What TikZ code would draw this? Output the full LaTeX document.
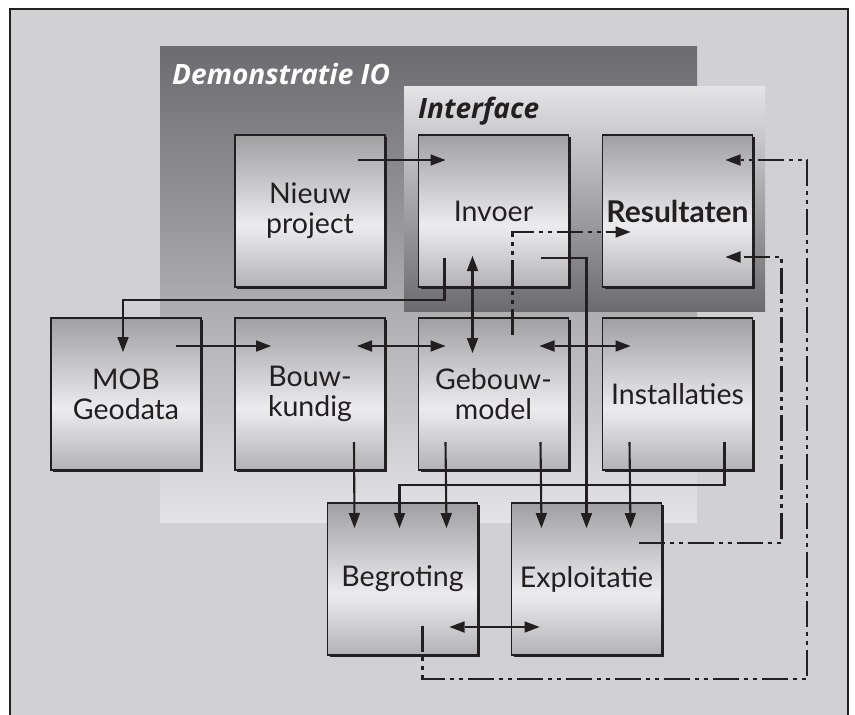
\documentclass[tikz,border=0pt]{standalone}
\usepackage{fontspec}
\setmainfont{Lato}
\newfontfamily\titlefont{Open Sans}
\usepackage{tikz}
\usetikzlibrary{arrows.meta,calc,shadows}

\definecolor{framebg}{HTML}{D1D1D3}
\definecolor{darkband}{HTML}{6B6B70}
\definecolor{lightband}{HTML}{E4E4E6}
\definecolor{boxedge}{HTML}{B2B2B5}
\definecolor{boxmid}{HTML}{ECECEE}
\definecolor{ink}{HTML}{231F20}

\pgfdeclareverticalshading{boxshade}{100bp}{color(0bp)=(boxedge); color(25bp)=(boxedge); color(45bp)=(boxmid); color(75bp)=(boxedge!90!black); color(100bp)=(boxedge!90!black)}

\begin{document}
\begin{tikzpicture}[
  x=1pt, y=-1pt,
  >={Triangle[length=15pt,width=11.5pt,line width=0pt]},
  arr/.style={->, line width=2.1pt, draw=ink},
  both/.style={<->, line width=2.1pt, draw=ink},
  dashdot/.style={line width=2.1pt, draw=ink, dash pattern=on 26pt off 5pt on 4pt off 5pt on 4pt off 5pt},
  module/.style={draw=ink, line width=1.4pt, shading=boxshade, text=ink,
    minimum width=150pt, minimum height=152pt, inner sep=2pt, outer sep=0pt,
    align=center, font=\fontsize{28.5}{30}\selectfont,
    drop shadow={shadow xshift=2.2pt, shadow yshift=-2.2pt, opacity=1, fill=ink}},
  title/.style={anchor=base west, inner sep=0pt, font=\titlefont\fontsize{28}{30}\selectfont\bfseries\itshape},
]

\useasboundingbox (0,0) rectangle (855,715);
\fill[white] (0,0) rectangle (855,715);
\fill[framebg] (10,9) rectangle (848,715);
\draw[line width=1.5pt, ink] (10,715) -- (10,9) -- (848,9) -- (848,715);

% grouping panels
\shade[top color=darkband, bottom color=lightband] (160,46) rectangle (697,522);
\shade[top color=lightband, bottom color=darkband] (404,86) rectangle (765,311);

\node[title, text=white] (demotitle) at (172,84) {Demonstratie IO};
\node[title, text=ink] (ifacetitle) at (418,118) {Interface};

% modules
\node[module] (nieuw)   at (310,211)   {Nieuw\\project};
\node[module] (invoer)  at (493.5,211) {Invoer};
\node[module] (result)  at (677.5,211) {\fontsize{30}{30}\selectfont\textbf{Resultaten}};

\node[module] (mob)     at (126,394)   {MOB\\Geodata};
\node[module] (bouwk)   at (310,394)   {Bouw-\\kundig};
\node[module] (gebouw)  at (493.5,394) {Gebouw-\\model};
\node[module] (install) at (677.5,394) {Installaties};

\node[module] (begr)    at (402.5,579) {Begroting};
\node[module] (expl)    at (586.5,579) {Exploitatie};

% connectors
\draw[arr]  ($(nieuw.north west)+(123,25)$) -- ($(invoer.north west)+(27,25)$);
\draw[arr]  ($(invoer.north west)+(26,123)$) -- ++(0,42) -| ($(mob.north west)+(72,34)$);
\draw[both] ($(invoer.north west)+(54,121)$) -- ($(gebouw.north west)+(54,35)$);
\draw[arr]  ($(invoer.north west)+(122,123)$) -| ($(expl.north west)+(75,25)$);

\draw[arr]  ($(mob.north west)+(125,28)$) -- ($(bouwk.north west)+(36,28)$);
\draw[both] ($(bouwk.north west)+(122,28)$) -- ($(gebouw.north west)+(27,28)$);
\draw[both] ($(gebouw.north west)+(121,28)$) -- ($(install.north west)+(28,28)$);

\draw[arr]  ($(bouwk.north west)+(119,124)$) -- ($(begr.north west)+(27,25)$);
\draw[arr]  ($(gebouw.north west)+(27,124)$) -- ($(begr.north west)+(119,25)$);
\draw[arr]  ($(install.north west)+(122,124)$) -- ++(0,43) -| ($(begr.north west)+(72,25)$);
\draw[arr]  ($(gebouw.north west)+(122,124)$) -- ($(expl.north west)+(30,25)$);
\draw[arr]  ($(install.north west)+(27,124)$) -- ($(expl.north west)+(119,25)$);

\draw[both] ($(begr.north west)+(122,124)$) -- ($(expl.north west)+(28,124)$);

% results feedback
\coordinate (loop) at (807,679);
\draw[dashdot,->] ($(gebouw.north west)+(94,17)$) |- ($(result.north west)+(28,97)$);
\draw[dashdot,->] ($(expl.north west)+(127,40)$) -- ++(143,0) |- ($(result.north west)+(123,122)$);
\draw[dashdot,->] ($(begr.north west)+(95,123)$) |- (loop) |- ($(result.north west)+(123,25)$);

\end{tikzpicture}
\end{document}
